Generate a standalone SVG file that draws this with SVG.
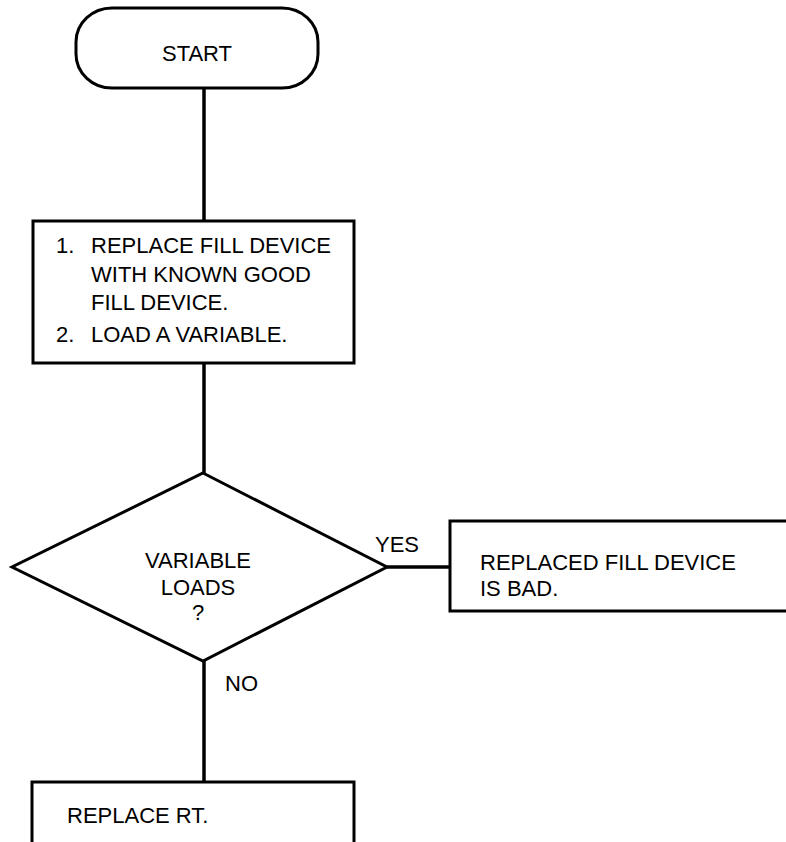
<svg xmlns="http://www.w3.org/2000/svg" width="786" height="842" viewBox="0 0 786 842">
<style>
.s{fill:#fff;stroke:#000;stroke-width:3}
.c{fill:none;stroke:#000;stroke-width:3.5}
text{font-family:"Liberation Sans",Arial,sans-serif;font-size:22px;fill:#000}
.m{text-anchor:middle}
</style>
<rect width="786" height="842" fill="#fff"/>
<g id="connectors">
<line class="c" x1="204" y1="88" x2="204" y2="221"/>
<line class="c" x1="204" y1="363" x2="204" y2="473"/>
<line class="c" x1="387" y1="567" x2="450" y2="567"/>
<line class="c" x1="204" y1="661" x2="204" y2="782"/>
<text x="375" y="552">YES</text>
<text x="225" y="691">NO</text>
</g>
<g id="start">
<rect class="s" x="76" y="8" width="242" height="80" rx="36" ry="34"/>
<text class="m" x="197" y="61">START</text>
</g>
<g id="step1">
<rect class="s" x="33" y="221" width="321" height="142"/>
<text x="56" y="253">1.</text>
<text x="91" y="253">REPLACE FILL DEVICE</text>
<text x="91" y="282">WITH KNOWN GOOD</text>
<text x="91" y="310">FILL DEVICE.</text>
<text x="56" y="342">2.</text>
<text x="91" y="342">LOAD A VARIABLE.</text>
</g>
<g id="decision">
<polygon class="s" points="203,473 387,567 203,661 12,567"/>
<text class="m" x="198" y="568">VARIABLE</text>
<text class="m" x="198" y="595">LOADS</text>
<text class="m" x="198" y="620">?</text>
</g>
<g id="bad">
<rect class="s" x="450" y="521" width="360" height="90"/>
<text x="480" y="570">REPLACED FILL DEVICE</text>
<text x="480" y="596">IS BAD.</text>
</g>
<g id="replace-rt">
<rect class="s" x="32" y="782" width="322" height="80"/>
<text x="67" y="823">REPLACE RT.</text>
</g>
</svg>
